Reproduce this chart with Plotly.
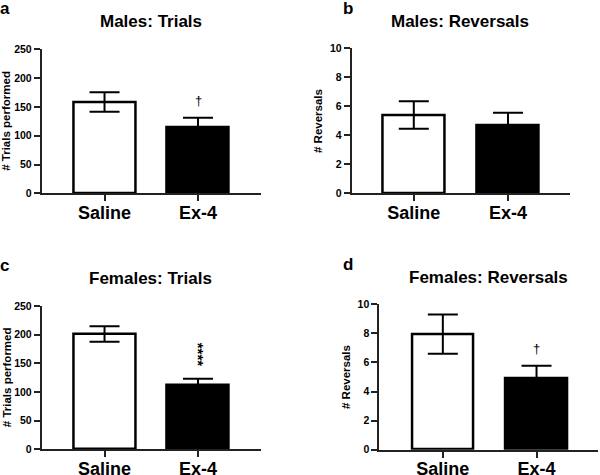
import plotly.graph_objects as go

groups = ["Saline", "Ex-4"]

males_trials = [158.5, 114.0]
males_trials_sem = [17.0, 17.0]
males_rev = [5.4, 4.7]
males_rev_sem = [0.95, 0.85]
females_trials = [201.0, 112.0]
females_trials_sem = [13.5, 11.0]
females_rev = [7.95, 4.9]
females_rev_sem = [1.35, 0.87]

titles = ["Males: Trials", "Males: Reversals", "Females: Trials", "Females: Reversals"]
letters = ["a", "b", "c", "d"]
ytitles = ["# Trials performed", "# Reversals", "# Trials performed", "# Reversals"]
yranges = [250, 10, 250, 10]
ydticks = [50, 2, 50, 2]

W, H = 600, 475

def px_x(p):
    return p / W

def px_y(p):
    return 1 - p / H

# panel geometry in pixels: (x0, x1, y_top, y_bottom, xrange)
panels = [
    (41.7, 261.0, 49.3, 193.3, [-0.672, 1.674]),
    (351.7, 570.0, 48.3, 193.3, [-0.659, 1.658]),
    (41.7, 261.0, 306.0, 449.3, [-0.672, 1.674]),
    (379.3, 598.0, 304.3, 449.7, [-0.678, 1.656]),
]

values = [males_trials, males_rev, females_trials, females_rev]
sems = [males_trials_sem, males_rev_sem, females_trials_sem, females_rev_sem]

fig = go.Figure()
FONT = "Arial"
AX = "#222222"

for i in range(4):
    sfx = "" if i == 0 else str(i + 1)
    fig.add_trace(go.Bar(
        x=groups, y=values[i],
        xaxis="x" + sfx, yaxis="y" + sfx,
        width=0.66,
        marker=dict(color=["white", "black"], line=dict(color="black", width=2.5)),
        error_y=dict(type="data", array=sems[i], color="black", thickness=2, width=15, visible=True),
        showlegend=False, hoverinfo="skip",
    ))
    x0, x1, yt, yb, xr = panels[i]
    fig.layout["xaxis" + sfx] = dict(
        domain=[px_x(x0), px_x(x1)], anchor="y" + sfx, range=xr,
        type="category", showline=True, linecolor=AX, linewidth=1.8,
        ticks="outside", ticklen=6, tickwidth=1.8, tickcolor=AX,
        ticklabelstandoff=-4,
        tickfont=dict(family=FONT, size=18, color="black", weight="bold"),
        showgrid=False, zeroline=False, fixedrange=True, automargin=False,
    )
    fig.layout["yaxis" + sfx] = dict(
        domain=[px_y(yb), px_y(yt)], anchor="x" + sfx, range=[0, yranges[i]],
        dtick=ydticks[i], showline=True, linecolor=AX, linewidth=1.8,
        ticks="outside", ticklen=6, tickwidth=1.8, tickcolor=AX,
        tickfont=dict(family=FONT, size=10.5, color="black", weight="bold"),
        showgrid=False, zeroline=False, fixedrange=True, automargin=False,
    )

annotations = []
title_pos = [(150.7, 22), (460, 21.5), (150.8, 278.5), (488.8, 277.5)]
letter_pos = [(4.5, 9), (347.5, 9), (4.5, 265), (347.5, 264.5)]
ytitle_pos = [(6.5, 121.3), (318, 121), (6.5, 377.7), (346, 377)]
for i in range(4):
    tx, ty = title_pos[i]
    annotations.append(dict(x=px_x(tx), y=px_y(ty), xref="paper", yref="paper",
                            text=titles[i], showarrow=False, xanchor="center", yanchor="middle",
                            font=dict(family=FONT, size=17, color="black", weight="bold")))
    lx, ly = letter_pos[i]
    annotations.append(dict(x=px_x(lx), y=px_y(ly), xref="paper", yref="paper",
                            text=letters[i], showarrow=False, xanchor="center", yanchor="middle",
                            font=dict(family=FONT, size=17, color="black", weight="bold")))
    ax_, ay_ = ytitle_pos[i]
    annotations.append(dict(x=px_x(ax_), y=px_y(ay_), xref="paper", yref="paper",
                            text=ytitles[i], showarrow=False, xanchor="center", yanchor="middle",
                            textangle=-90,
                            font=dict(family=FONT, size=11.5, color="black", weight="bold")))

# significance markers (data coordinates)
annotations.append(dict(x="Ex-4", y=161, xref="x", yref="y", text="†", showarrow=False,
                        font=dict(family=FONT, size=13, color="black")))
annotations.append(dict(x="Ex-4", y=165, xref="x3", yref="y3", text="****", showarrow=False,
                        textangle=90, font=dict(family=FONT, size=15, color="black", weight="bold")))
annotations.append(dict(x="Ex-4", y=6.95, xref="x4", yref="y4", text="†", showarrow=False,
                        font=dict(family=FONT, size=13, color="black")))

fig.update_layout(
    width=W, height=H,
    margin=dict(l=0, r=0, t=0, b=0, autoexpand=False),
    paper_bgcolor="white", plot_bgcolor="white",
    annotations=annotations,
    bargap=0,
)

fig.write_html("out.html", config={"displayModeBar": False},
               post_script="document.body.style.margin='0';")
